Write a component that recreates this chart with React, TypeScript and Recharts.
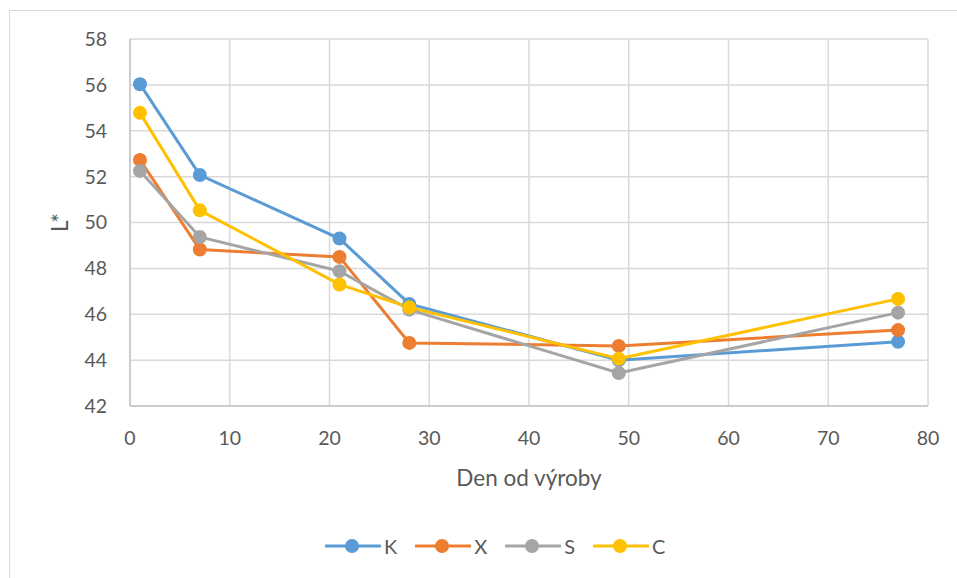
import React from "react";
import {
  LineChart,
  Line,
  XAxis,
  YAxis,
  CartesianGrid,
  Legend,
  Label,
} from "recharts";

// Measurement days (days since production)
const days = [1, 7, 21, 28, 49, 77];

// L* lightness per sample
const seriesK = [56.03, 52.07, 49.3, 46.45, 44.0, 44.8];
const seriesX = [52.73, 48.82, 48.5, 44.75, 44.62, 45.31];
const seriesS = [52.25, 49.37, 47.88, 46.2, 43.44, 46.07];
const seriesC = [54.78, 50.53, 47.3, 46.3, 44.06, 46.67];

const xTicks = [0, 10, 20, 30, 40, 50, 60, 70, 80];
const yTicks = [42, 44, 46, 48, 50, 52, 54, 56, 58];

const seriesMeta = [
  { key: "K", color: "#5B9BD5", values: seriesK },
  { key: "X", color: "#ED7D31", values: seriesX },
  { key: "S", color: "#A5A5A5", values: seriesS },
  { key: "C", color: "#FFC000", values: seriesC },
];

const data = days.map((d, i) => {
  const row: Record<string, number> = { day: d };
  seriesMeta.forEach((s) => {
    row[s.key] = s.values[i];
  });
  return row;
});

const FONT = "Lato, 'Open Sans', sans-serif";
const TEXT = "#595959";

const LegendContent = () => (
  <div
    style={{
      display: "flex",
      alignItems: "center",
      height: 30,
      fontFamily: FONT,
      fontSize: 20,
      color: TEXT,
    }}
  >
    {seriesMeta.map((s) => (
      <div
        key={s.key}
        style={{ display: "flex", alignItems: "center", marginRight: 18 }}
      >
        <svg width={56} height={16} style={{ display: "block" }}>
          <line
            x1={1}
            y1={8}
            x2={55}
            y2={8}
            stroke={s.color}
            strokeWidth={3}
            strokeLinecap="round"
          />
          <circle cx={27} cy={8} r={7} fill={s.color} />
        </svg>
        <span style={{ marginLeft: 3, lineHeight: "30px" }}>{s.key}</span>
      </div>
    ))}
  </div>
);

export default function App() {
  return (
    <div
      style={{
        position: "absolute",
        left: 0,
        top: 0,
        width: 957,
        height: 578,
        overflow: "hidden",
        background: "#ffffff",
      }}
    >
      <div
        style={{
          position: "absolute",
          left: 9,
          top: 10,
          width: 1000,
          height: 700,
          border: "1.5px solid #d9d9d9",
        }}
      />
      <div style={{ position: "absolute", left: 0, top: 0 }}>
        <LineChart
          width={957}
          height={578}
          data={data}
          margin={{ top: 39, right: 29, left: 50, bottom: 10 }}
        >
          <CartesianGrid stroke="#d9d9d9" strokeWidth={1.5} />
          <XAxis
            dataKey="day"
            type="number"
            domain={[0, 80]}
            ticks={xTicks}
            interval={0}
            height={132}
            tickLine={false}
            tickSize={0}
            tickMargin={25}
            axisLine={{ stroke: "#c4c4c4", strokeWidth: 1.5 }}
            tick={{ fill: TEXT, fontSize: 19.5, fontFamily: FONT }}
          >
            <Label
              value="Den od výroby"
              position="insideTop"
              offset={64}
              style={{ fill: TEXT, fontSize: 22.5, fontFamily: FONT }}
            />
          </XAxis>
          <YAxis
            type="number"
            domain={[42, 58]}
            ticks={yTicks}
            interval={0}
            width={80}
            tickLine={false}
            tickSize={0}
            tickMargin={23}
            axisLine={{ stroke: "#c4c4c4", strokeWidth: 1.5 }}
            tick={{ fill: TEXT, fontSize: 19.5, fontFamily: FONT }}
          >
            <Label
              value="L*"
              angle={-90}
              position="insideLeft"
              offset={10}
              style={{
                fill: TEXT,
                fontSize: 22.5,
                fontFamily: FONT,
                textAnchor: "middle",
              }}
            />
          </YAxis>
          <Legend
            verticalAlign="bottom"
            content={<LegendContent />}
            wrapperStyle={{ left: 325, bottom: 17, width: 400, height: 30 }}
          />
          {seriesMeta.map((s) => (
            <Line
              key={s.key}
              type="linear"
              dataKey={s.key}
              stroke={s.color}
              strokeWidth={3}
              dot={{ r: 7, fill: s.color, stroke: s.color, strokeWidth: 0 }}
              activeDot={false}
              isAnimationActive={false}
            />
          ))}
        </LineChart>
      </div>
    </div>
  );
}
